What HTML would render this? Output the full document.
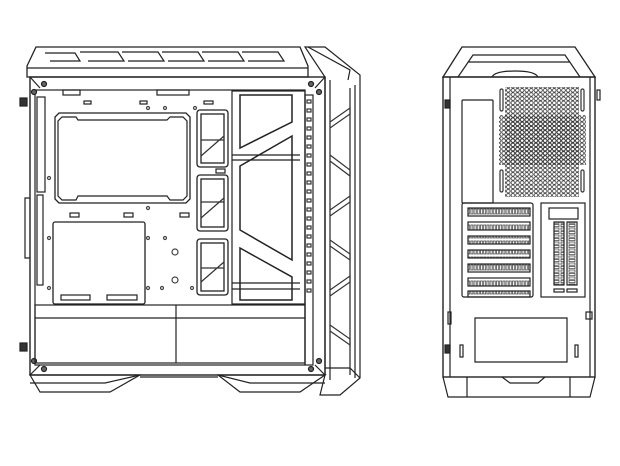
<!DOCTYPE html>
<html><head><style>html,body{margin:0;padding:0;background:#fff}svg{display:block}</style></head>
<body>
<svg width="620" height="466" viewBox="0 0 620 466" xmlns="http://www.w3.org/2000/svg" fill="none" stroke="#222" stroke-width="1.2">
<defs>
<pattern id="hex" width="4.6" height="4.2" patternUnits="userSpaceOnUse">
<circle cx="2.3" cy="2.1" r="1.8" stroke="#333" stroke-width="0.8"/>
</pattern>
<pattern id="slot" width="3.2" height="8" patternUnits="userSpaceOnUse">
<rect x="0.5" y="1" width="2" height="5" stroke="#333" stroke-width="0.7"/>
</pattern>
<pattern id="strip" width="8" height="3.5" patternUnits="userSpaceOnUse">
<rect x="1" y="0.5" width="6" height="2.2" stroke="#333" stroke-width="0.7"/>
</pattern>
</defs>

<polygon points="27,66 36,47 300,47 308,66 308,77 27,77" stroke-width="1.3"/>
<line x1="27" y1="68" x2="308" y2="68"/>
<polyline points="45,53 75,53 80,61 50,61" />
<polyline points="80,52 118,52 124,61 88,61"/>
<polyline points="122,52 158,52 164,61 128,61"/>
<polyline points="162,52 198,52 204,61 168,61"/>
<polyline points="202,52 238,52 244,61 208,61"/>
<polyline points="242,52 278,52 284,61 248,61"/>
<rect x="30" y="77" width="295" height="298" stroke-width="1.4"/>
<rect x="35" y="90" width="270" height="275"/>
<line x1="30" y1="77" x2="40" y2="88"/><line x1="325" y1="77" x2="315" y2="88"/>
<line x1="30" y1="375" x2="40" y2="365"/><line x1="325" y1="375" x2="315" y2="365"/>
<g fill="#666" stroke="#222">
<circle cx="44" cy="84" r="2.5"/><circle cx="311" cy="84" r="2.5"/><circle cx="34" cy="92" r="2.5"/><circle cx="319" cy="92" r="2.5"/>
<circle cx="34" cy="361" r="2.5"/><circle cx="319" cy="361" r="2.5"/><circle cx="44" cy="369" r="2.5"/><circle cx="311" cy="369" r="2.5"/>
</g>
<rect x="20" y="98" width="7" height="8" fill="#333"/><rect x="20" y="343" width="7" height="8" fill="#333"/>
<rect x="37" y="97" width="8" height="95"/>
<rect x="37" y="195" width="6" height="90"/>
<path d="M30 198 H25 V258 H30"/>
<rect x="63" y="90" width="17" height="5"/><rect x="157" y="90" width="32" height="5"/>
<rect x="84" y="101" width="7" height="3"/><rect x="140" y="101" width="7" height="3"/><rect x="204" y="101" width="9" height="3"/>
<path d="M59 113 H186 L190 117 V199 L186 203 H59 L55 199 V117 Z" stroke-width="1.3"/>
<path d="M62 117 L76 117 L78 120 H167 L170 117 H183 L187 121 V196 L183 200 H170 L167 196 H78 L76 200 H62 L58 196 V121 Z"/>
<rect x="70" y="213" width="9" height="4"/><rect x="124" y="213" width="9" height="4"/><rect x="180" y="213" width="9" height="4"/>
<rect x="53" y="222" width="92" height="82" rx="2" stroke-width="1.3"/>
<rect x="61" y="295" width="29" height="5"/><rect x="107" y="295" width="30" height="5"/>
<g stroke="#444"><circle cx="175" cy="252" r="3"/><circle cx="175" cy="280" r="3"/>
<circle cx="49" cy="178" r="1.5"/><circle cx="148" cy="108" r="1.5"/><circle cx="165" cy="108" r="1.5"/><circle cx="195" cy="108" r="1.5"/>
<circle cx="148" cy="208" r="1.5"/><circle cx="165" cy="238" r="1.5"/><circle cx="148" cy="238" r="1.5"/><circle cx="148" cy="288" r="1.5"/><circle cx="162" cy="288" r="1.5"/><circle cx="192" cy="288" r="1.5"/><circle cx="49" cy="238" r="1.5"/><circle cx="49" cy="288" r="1.5"/></g>
<g stroke-width="1.3">
<rect x="197" y="110" width="31" height="57" rx="3"/><rect x="201" y="114" width="23" height="49"/>
<rect x="197" y="175" width="31" height="56" rx="3"/><rect x="201" y="179" width="23" height="48"/>
<rect x="197" y="239" width="31" height="56" rx="3"/><rect x="201" y="243" width="23" height="48"/>
</g>
<path d="M201 156 L224 136 M201 140 H224 M201 218 L224 198 M201 202 H224 M201 282 L224 262 M201 268 H224" stroke="#333"/>
<rect x="216" y="169" width="9" height="4"/>
<rect x="232" y="91" width="73" height="213"/>
<path d="M240 95 H292 V122 L240 148 Z M240 166 L292 136 V260 L240 230 Z M240 248 L292 277 V300 H240 Z" stroke-width="1.5"/>
<line x1="232" y1="155" x2="300" y2="155"/><line x1="232" y1="160" x2="300" y2="160"/>
<line x1="232" y1="283" x2="300" y2="283"/><line x1="232" y1="289" x2="300" y2="289"/>
<rect x="305" y="95" width="8" height="270"/>
<g stroke="#333">
<rect x="307" y="100" width="4" height="3"/><rect x="307" y="109" width="4" height="3"/><rect x="307" y="118" width="4" height="3"/><rect x="307" y="127" width="4" height="3"/><rect x="307" y="136" width="4" height="3"/><rect x="307" y="145" width="4" height="3"/><rect x="307" y="154" width="4" height="3"/><rect x="307" y="163" width="4" height="3"/><rect x="307" y="172" width="4" height="3"/><rect x="307" y="181" width="4" height="3"/><rect x="307" y="190" width="4" height="3"/><rect x="307" y="199" width="4" height="3"/><rect x="307" y="208" width="4" height="3"/><rect x="307" y="217" width="4" height="3"/><rect x="307" y="226" width="4" height="3"/><rect x="307" y="235" width="4" height="3"/><rect x="307" y="244" width="4" height="3"/><rect x="307" y="253" width="4" height="3"/><rect x="307" y="262" width="4" height="3"/><rect x="307" y="271" width="4" height="3"/><rect x="307" y="280" width="4" height="3"/><rect x="307" y="289" width="4" height="3"/>
</g>
<rect x="35" y="305" width="270" height="58"/>
<line x1="35" y1="318" x2="305" y2="318"/><line x1="176" y1="305" x2="176" y2="363"/>
<polygon points="30,375 40,392 110,392 140,375"/>
<polyline points="30,383 105,383 140,375"/>
<polygon points="218,375 240,392 300,392 325,375"/>
<polyline points="218,375 250,383 325,383"/>
<line x1="140" y1="377" x2="218" y2="377"/>
<polygon points="305,47 325,47 360,75 360,378 340,395 320,395 325,375 325,77" stroke-width="1.2"/>
<polyline points="308,47 350,70 348,80"/>
<line x1="330" y1="80" x2="330" y2="380"/>
<line x1="350" y1="88" x2="350" y2="375"/><line x1="355" y1="85" x2="355" y2="378"/>
<polyline points="325,368 350,368 360,378"/>
<g stroke="#333">
<polyline points="330,122 350,108 350,114 330,128"/>
<polyline points="330,155 350,170 350,176 330,161"/>
<polyline points="330,210 350,196 350,202 330,216"/>
<polyline points="330,240 350,254 350,260 330,246"/>
<polyline points="330,290 350,276 350,282 330,296"/>
<polyline points="330,325 350,339 350,345 330,331"/>
</g>

<polygon points="443,77 462,47 575,47 595,77" stroke-width="1.3"/>
<polyline points="458,77 473,55 565,55 580,77"/>
<line x1="468" y1="62" x2="570" y2="62"/>
<path d="M492 77 Q495 71 515 71 Q535 71 538 77"/>
<rect x="443" y="77" width="152" height="300" stroke-width="1.4"/>
<line x1="450" y1="77" x2="450" y2="377"/><line x1="590" y1="77" x2="590" y2="377"/>
<rect x="445" y="100" width="5" height="8" fill="#333"/><rect x="445" y="345" width="5" height="8" fill="#333"/>
<rect x="597" y="90" width="3" height="10"/>
<rect x="462" y="100" width="31" height="103" rx="1"/>
<rect x="505" y="87" width="74" height="110" fill="url(#hex)" stroke="none"/>
<rect x="499" y="115" width="87" height="50" fill="url(#hex)" stroke="none"/>
<g stroke="#333">
<rect x="500" y="89" width="3" height="22" rx="1.5"/><rect x="500" y="170" width="3" height="22" rx="1.5"/>
<rect x="581" y="89" width="3" height="22" rx="1.5"/><rect x="581" y="170" width="3" height="22" rx="1.5"/>
</g>
<rect x="462" y="203" width="71" height="94" rx="2"/>
<g>
<rect x="468" y="208" width="62" height="8" fill="url(#slot)"/><rect x="468" y="222" width="62" height="8" fill="url(#slot)"/>
<rect x="468" y="236" width="62" height="8" fill="url(#slot)"/><rect x="468" y="250" width="62" height="8" fill="url(#slot)"/>
<rect x="468" y="264" width="62" height="8" fill="url(#slot)"/><rect x="468" y="278" width="62" height="8" fill="url(#slot)"/>
<rect x="468" y="291" width="62" height="6" fill="url(#slot)"/>
</g>
<rect x="541" y="203" width="44" height="94"/>
<rect x="549" y="208" width="29" height="11"/>
<rect x="554" y="222" width="10" height="63" fill="url(#strip)"/>
<rect x="567" y="222" width="10" height="63" fill="url(#strip)"/>
<rect x="554" y="289" width="10" height="3"/><rect x="567" y="289" width="10" height="3"/>
<path d="M475 318 H567 V362 H475 Z"/>
<rect x="586" y="312" width="6" height="7"/>
<rect x="448" y="312" width="3" height="12"/><rect x="460" y="345" width="3" height="12"/><rect x="575" y="345" width="3" height="12"/>
<polyline points="443,377 448,397 590,397 595,377"/>
<path d="M467 377 V397 M570 377 V397 M502 377 L510 383 H538 L545 377"/>
</svg>
</body></html>
